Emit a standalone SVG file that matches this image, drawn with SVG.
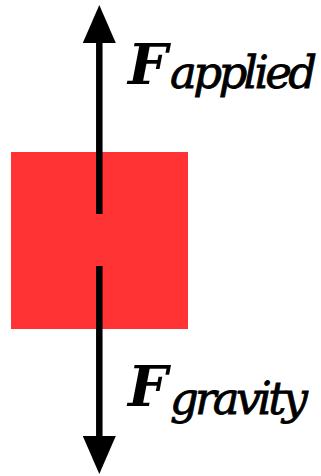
<svg xmlns="http://www.w3.org/2000/svg" width="321" height="476" viewBox="0 0 321 476">
<style>
.lbl{font-family:'DejaVu Serif',serif;font-style:italic;fill:#000}
.big{font-size:56px;font-weight:bold}
.sub{font-size:45px;stroke:#000;stroke-width:0.8}
.shaft{stroke:#000;stroke-width:6.5;fill:none}
</style>
<defs>
<marker id="head" markerUnits="userSpaceOnUse" markerWidth="38" markerHeight="33" viewBox="0 0 38 33" refX="0" refY="16.5" orient="auto">
<path d="M0,0 L38,16.5 L0,33 Z" fill="#000"/>
</marker>
</defs>
<g id="block">
<rect x="11" y="152" width="177" height="177" fill="#ff3333"/>
</g>
<g id="connectors">
<line class="shaft" x1="99.3" y1="214" x2="99.3" y2="43" marker-end="url(#head)"/>
<line class="shaft" x1="99.3" y1="266" x2="99.3" y2="436" marker-end="url(#head)"/>
</g>
<g id="label-applied">
<text class="lbl" x="128" y="84"><tspan class="big">F</tspan><tspan class="sub" x="170" y="88" textLength="147">applied</tspan></text>
</g>
<g id="label-gravity">
<text class="lbl" x="128" y="406"><tspan class="big">F</tspan><tspan class="sub" x="170" y="414" textLength="138">gravity</tspan></text>
</g>
</svg>
